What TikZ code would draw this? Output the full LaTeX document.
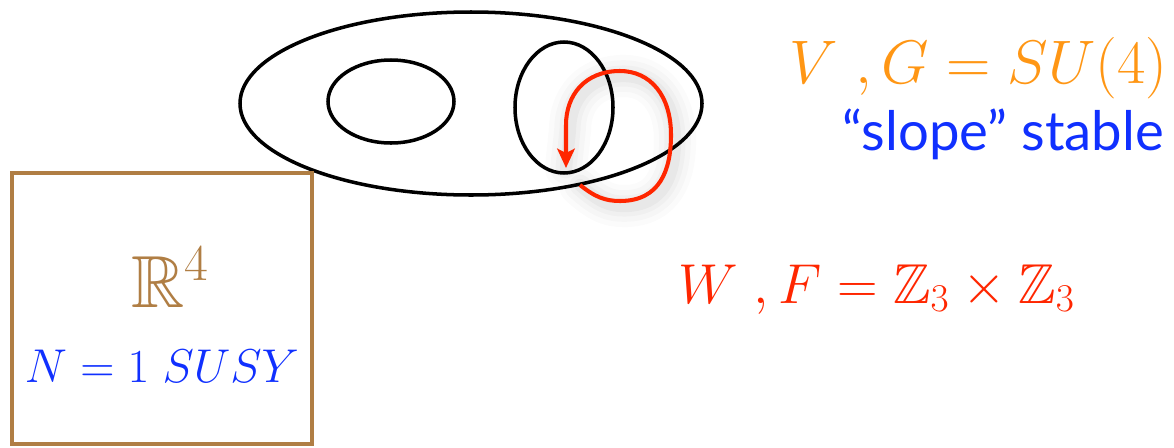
\RequirePackage{fix-cm}
\documentclass[tikz,border=0pt]{standalone}
\usepackage{amsmath,amssymb}
\usepackage{fontspec}
\usepackage{xcolor}
\usetikzlibrary{
  arrows.meta,
  positioning,
  calc,
}
% blackboard bold at any size
\DeclareFontFamily{U}{msb}{}
\DeclareFontShape{U}{msb}{m}{n}{<-6>msbm5<6-8>msbm7<8->msbm10}{}
\newfontfamily\slopefont{Lato}
\definecolor{fibrecol}{RGB}{255,150,20}
\definecolor{stablecol}{RGB}{16,48,255}
\definecolor{wilsoncol}{RGB}{255,38,0}
\definecolor{basecol}{RGB}{176,126,68}
\tikzset{
  cycleline/.style={draw=black, line width=2pt},
  loopline/.style={draw=wilsoncol, line width=2.3pt,
    -{Stealth[length=11pt, width=10pt, inset=2.5pt]}},
  loopshadow/.style={draw=black, line cap=round, line join=round},
  basebox/.style={draw=basecol, line width=1.8pt},
  mathlabel/.style={inner sep=0pt, font=\fontsize{35}{40}\selectfont},
  boxlabel/.style={inner sep=0pt, anchor=base},
}

\begin{document}
\begin{tikzpicture}[x=0.02cm, y=-0.02cm]
  \useasboundingbox (0,0) rectangle (1174,447);

  % ── Calabi-Yau with its two cycles ──
  \draw[cycleline] (471,103.5) ellipse (231 and 91.5);
  \draw[cycleline] (391,101.5) ellipse (63 and 41.5);
  \draw[cycleline] (564,107.5) ellipse (49 and 65.5);

  % ── Wilson line loop (soft shadow first) ──
  \coordinate (loopstart) at (580,185);
  \coordinate (loopend)   at (566,168);
  \foreach \w/\o in {24pt/0.015, 18pt/0.02, 12pt/0.025, 7pt/0.03} {
    \draw[loopshadow, line width=\w, opacity=\o, shift={(4,5)}]
      (loopstart) .. controls (595,197) and (605,201) .. (620,201)
      .. controls (660,201) and (671,170) .. (671,135)
      .. controls (671,95) and (650,71) .. (620,71)
      .. controls (585,71) and (566,95) .. (566,125) -- (loopend);
  }
  \draw[loopline]
    (loopstart) .. controls (595,197) and (605,201) .. (620,201)
    .. controls (660,201) and (671,170) .. (671,135)
    .. controls (671,95) and (650,71) .. (620,71)
    .. controls (585,71) and (566,95) .. (566,125) -- (loopend);

  % ── Four-dimensional spacetime ──
  \draw[basebox] (12,173) rectangle (312,444);
  \node[boxlabel, text=basecol, font=\fontsize{42}{46}\selectfont] (rfour)
    at (170,307) {$\mathbb{R}^4$};
  \node[boxlabel, text=stablecol, font=\fontsize{27}{30}\selectfont] (susy)
    at (162,382) {$N=1\;SUSY$};

  % ── Labels on the right ──
  \node[mathlabel, text=fibrecol, anchor=base east] (bundle)
    at (1168,83) {$V\;,G=SU(4)$};
  \node[inner sep=0pt, anchor=base east, text=stablecol,
        font=\slopefont\fontsize{31}{34}\selectfont] (slope)
    at (1164,150) {“slope” stable};
  \node[mathlabel, text=wilsoncol, anchor=base west,
        font=\fontsize{32}{36}\selectfont] (wilson)
    at (678,303) {$W\;,F=\mathbb{Z}_3\times\mathbb{Z}_3$};

\end{tikzpicture}
\end{document}
